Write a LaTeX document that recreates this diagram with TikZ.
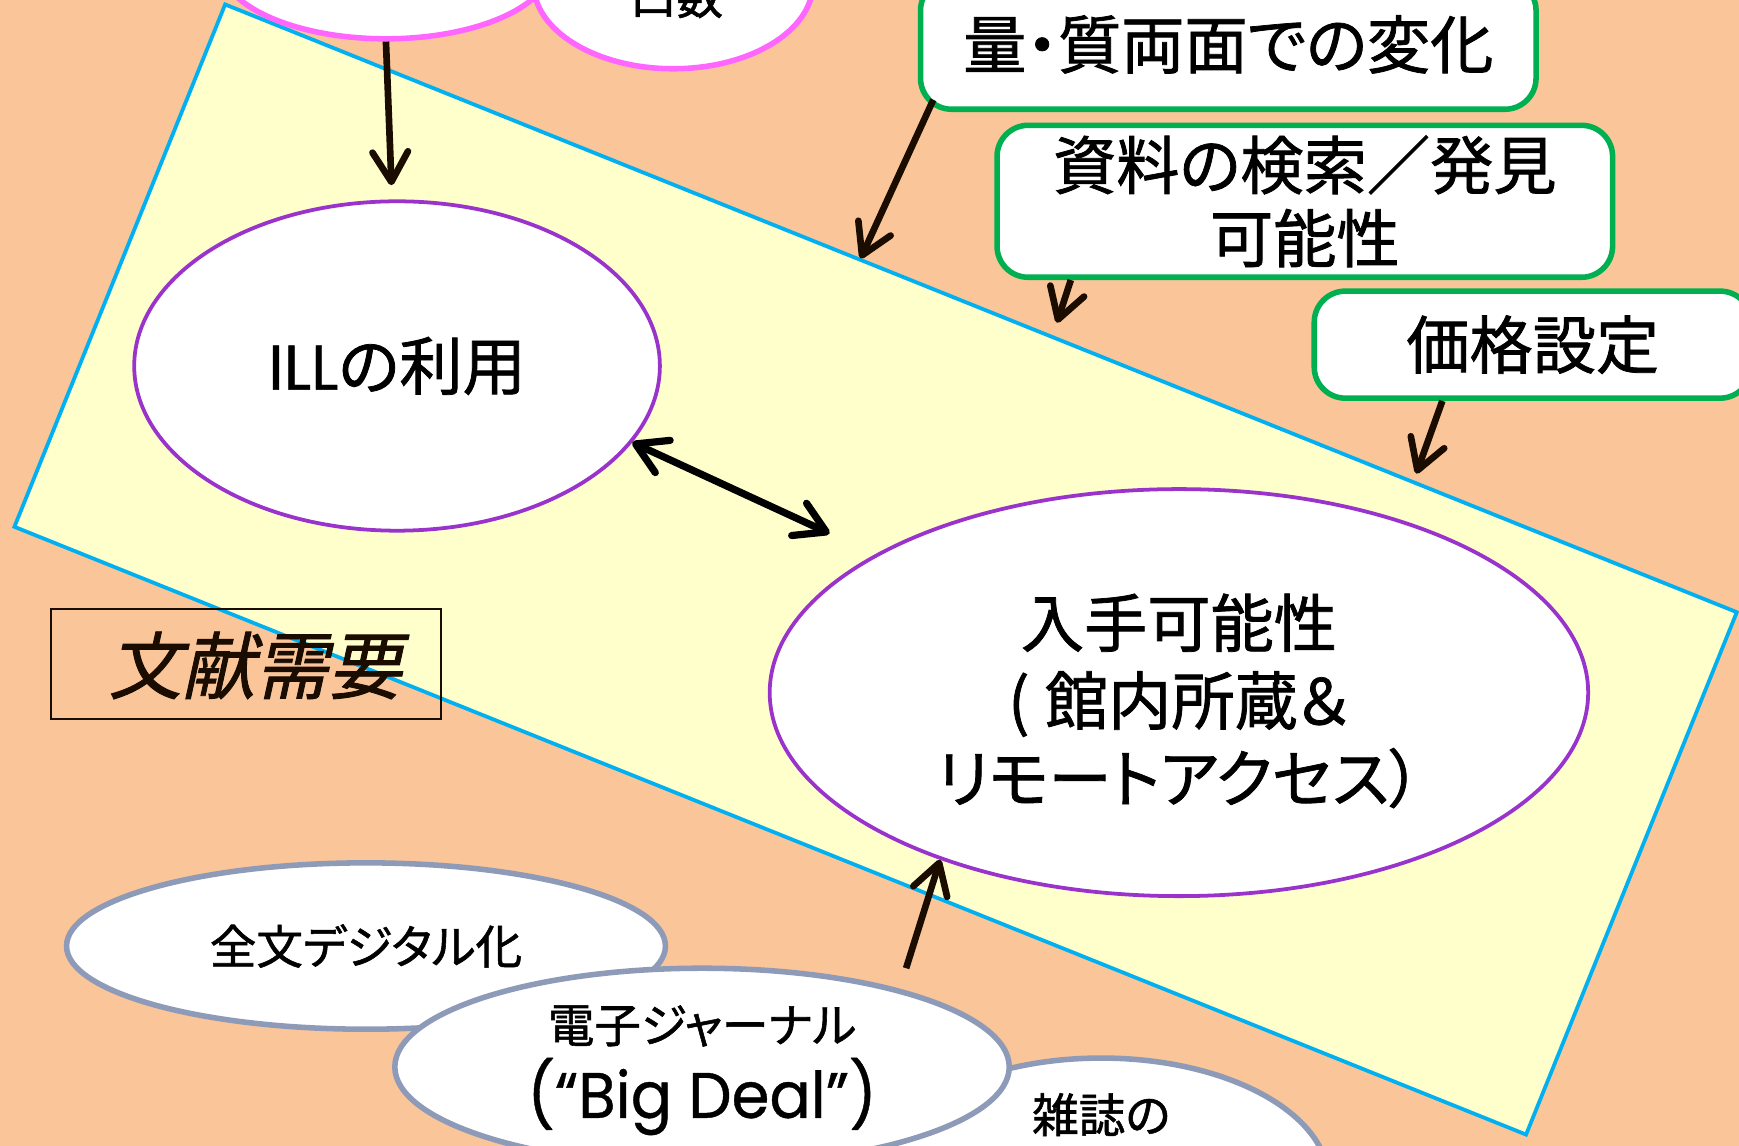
\documentclass[tikz,border=0pt]{standalone}
\usepackage{fontspec}
\setmainfont{Noto Sans CJK JP}[RawFeature=+palt, FakeBold=1.2]
\newfontfamily\fullw{Noto Sans CJK JP}[FakeBold=1.2]
\newfontfamily\latinf{Poppins}[FakeBold=0.6]
\newfontfamily\latinc{Poppins}[FakeStretch=0.95, FakeBold=0.6]
\newfontfamily\slantjp{Noto Sans CJK JP}[FakeSlant=0.22, FakeBold=1.2]
\usetikzlibrary{shapes.geometric,arrows.meta}
\definecolor{peach}{HTML}{F9C599}
\definecolor{lyel}{HTML}{FFFFCC}
\definecolor{cyanb}{HTML}{00B0F0}
\definecolor{purp}{HTML}{9933CC}
\definecolor{pinkb}{HTML}{FF66FF}
\definecolor{greenb}{HTML}{00B050}
\definecolor{grayb}{HTML}{8E9BB8}
\definecolor{dk}{HTML}{1A0D00}
\tikzset{
 ellbase/.style={ellipse, fill=white, inner sep=0pt, align=center, text=black},
 pinkell/.style={ellbase, draw=pinkb, line width=5pt},
 purpell/.style={ellbase, draw=purp, line width=3.4pt},
 grayell/.style={ellbase, draw=grayb, line width=5pt},
 greenbox/.style={rectangle, rounded corners=28pt, draw=greenb, line width=5pt, fill=white, inner sep=0pt, align=center, text=black},
 arr/.style={draw=dk, line width=6pt, -{Straight Barb[length=27pt,width=32pt,round]}},
 dblarr/.style={draw=black, line width=6.5pt, {Straight Barb[length=27pt,width=32pt,round]}-{Straight Barb[length=27pt,width=32pt,round]}},
 fbig/.style={font=\fontsize{57}{66}\selectfont},
 fmid/.style={font=\fontsize{42}{66}\selectfont},
}
\begin{document}
\begin{tikzpicture}[x=1pt,y=-1pt]
\useasboundingbox (0,0) rectangle (1568,1033);
\fill[peach] (0,0) rectangle (1568,1033);
\clip (0,0) rectangle (1568,1033);
\draw[draw=cyanb, fill=lyel, line width=3.4pt] (203,4) -- (1566,552) -- (1376,1023) -- (13,475) -- cycle;

% top pink ellipses (cut off)
\node[pinkell, minimum width=300pt, minimum height=136pt] (pinkL) at (348,-33) {};
\node[pinkell, minimum width=252pt, minimum height=154pt] (pinkR) at (607,-15) {};
\node[fmid, text=black] (kosu) at (610,-3) {口数};

% central ellipses
\node[purpell, fbig, minimum width=474pt, minimum height=297pt] (ill) at (358,330) {{\latinf ILL}の利用};
\node[purpell, minimum width=738pt, minimum height=367pt] (big) at (1063,624.5) {};
\node[align=center, font=\fontsize{57}{70}\selectfont, text=black] (bigt) at (1063,632) {入手可能性\\(\hspace{14pt}館内所蔵＆\\リモートアクセス）};

% green boxes
\node[greenbox, fbig, minimum width=555pt, minimum height=117pt] (qa) at (1107.5,40) {量・質両面での変化};
\node[greenbox, fbig, minimum width=555pt, minimum height=137pt] (qb) at (1176.5,181.5) {資料の検索{\fullw ／}発見\\可能性};
\node[greenbox, fbig, minimum width=394pt, minimum height=96.5pt] (qc) at (1382,310.75) {価格設定};

% label box
\node[draw=dk, line width=1.5pt, minimum width=352pt, minimum height=99pt, inner sep=0pt] (bunken) at (221.7,598.5) {};
\node[font=\slantjp\fontsize{66}{70}\selectfont, text=dk] (bunkent) at (230,600) {文献需要};

% bottom ellipses
\node[grayell, fmid, minimum width=540pt, minimum height=150pt] (zenbun) at (330,853) {全文デジタル化};
\node[grayell, minimum width=410pt, minimum height=222pt] (zasshi) at (993,1065) {};
\node[fmid, text=black] (zasshit) at (993,1005) {雑誌の};
\node[grayell, minimum width=554pt, minimum height=178pt] (ej) at (633,962) {};
\node[align=center, font=\fontsize{42}{68}\selectfont, text=black] (ejt) at (633,965) {電子ジャーナル\\{\latinc\fontsize{58}{62}\selectfont (“Big Deal”)}};

% arrows
\coordinate (t0) at (353,167);
\draw[arr] (pinkL.south) -- (t0);
\coordinate (d2) at (748,481);
\draw[dblarr] (ill.-18) -- (d2);
\coordinate (ta) at (776,233);
\draw[arr] ([xshift=14pt,yshift=11pt]qa.south west) -- (ta);
\coordinate (tb) at (953,291);
\draw[arr] ([xshift=69pt]qb.south west) -- (tb);
\coordinate (tc) at (1277,427);
\draw[arr] ([xshift=118pt]qc.south west) -- (tc);
\coordinate (s5) at (817,873);
\draw[arr] (s5) -- (big.-145);
\end{tikzpicture}
\end{document}
